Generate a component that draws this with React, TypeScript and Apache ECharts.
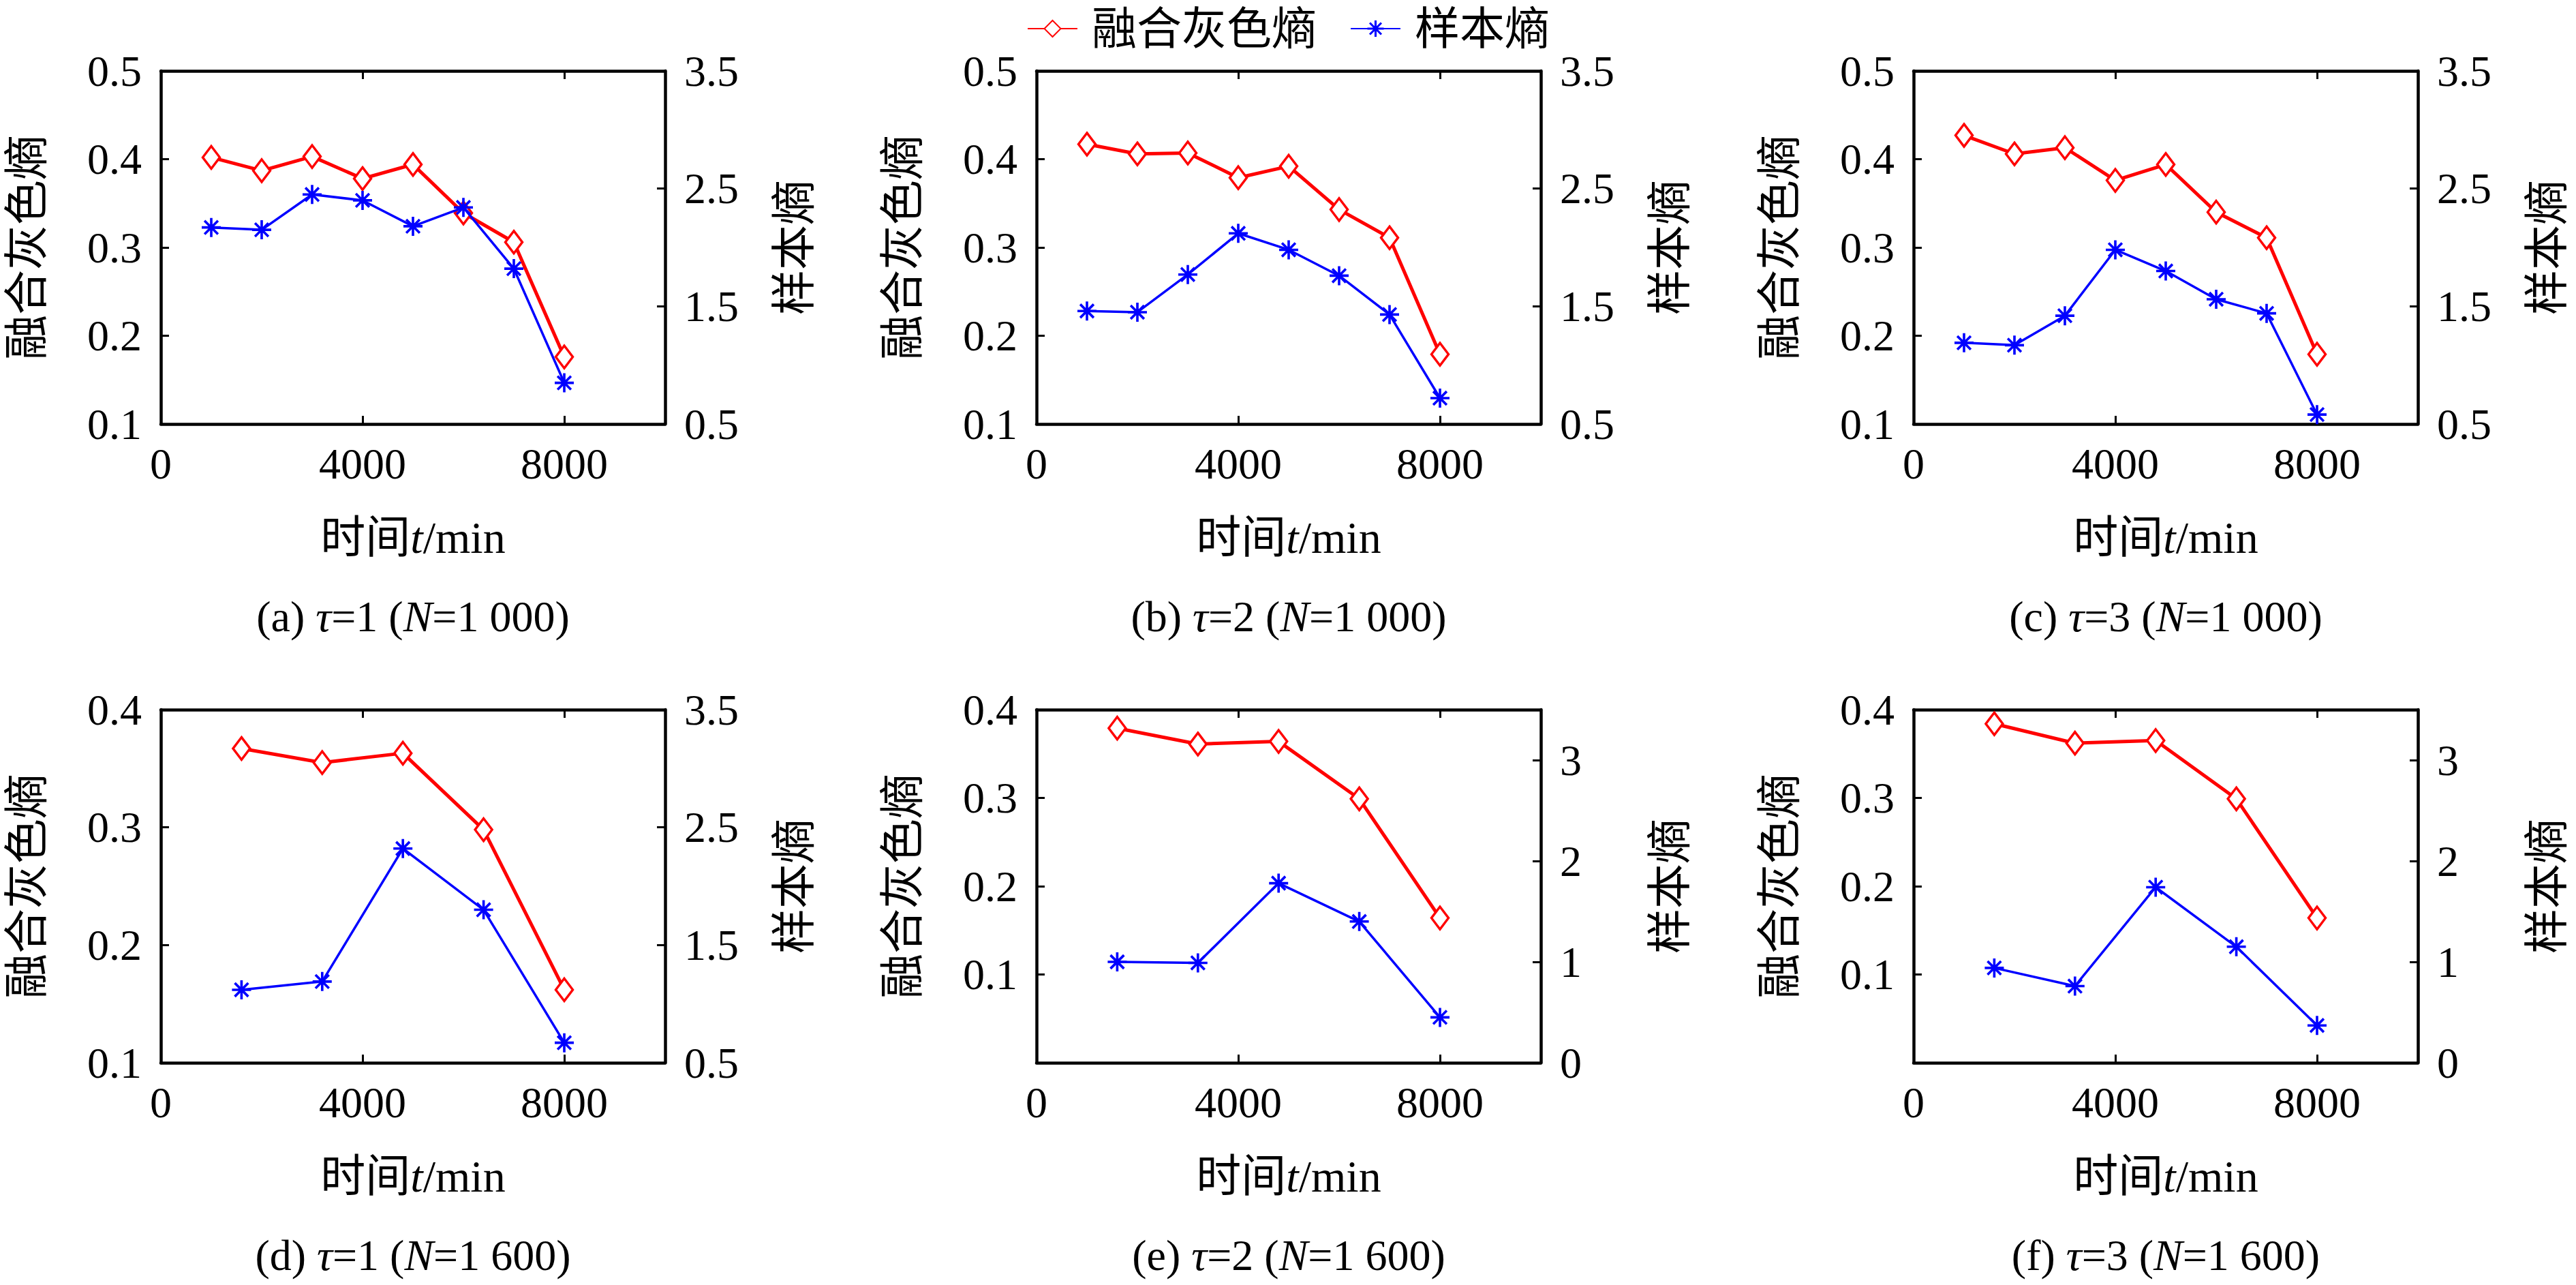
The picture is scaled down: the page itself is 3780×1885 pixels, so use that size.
import React, { useEffect, useRef } from 'react';
import * as echarts from 'echarts';

// ---- data ----
const timesN1000 = [1000, 2000, 3000, 4000, 5000, 6000, 7000, 8000];
const timesN1600 = [1600, 3200, 4800, 6400, 8000];

const grayA1 = [0.402, 0.387, 0.403, 0.378, 0.394, 0.339, 0.306, 0.176];
const sampA1 = [2.17, 2.15, 2.45, 2.40, 2.18, 2.34, 1.82, 0.85];
const grayA2 = [0.417, 0.406, 0.407, 0.379, 0.392, 0.343, 0.311, 0.179];
const sampA2 = [1.46, 1.45, 1.77, 2.12, 1.98, 1.76, 1.43, 0.72];
const grayA3 = [0.427, 0.406, 0.413, 0.376, 0.394, 0.340, 0.311, 0.179];
const sampA3 = [1.19, 1.17, 1.42, 1.98, 1.80, 1.56, 1.44, 0.58];

const grayB1 = [0.367, 0.355, 0.363, 0.298, 0.162];
const sampB1 = [1.12, 1.19, 2.32, 1.80, 0.67];
const grayB2 = [0.379, 0.361, 0.364, 0.299, 0.164];
const sampB2 = [1.00, 0.99, 1.78, 1.40, 0.45];
const grayB3 = [0.384, 0.362, 0.365, 0.299, 0.164];
const sampB3 = [0.94, 0.76, 1.74, 1.15, 0.37];

const xLabelValues = [0, 4000, 8000];
const xTickValues = [4000, 8000];
const leftLabelsTop = [0.1, 0.2, 0.3, 0.4, 0.5];
const leftLabelsD = [0.1, 0.2, 0.3, 0.4];
const leftLabelsEF = [0.1, 0.2, 0.3, 0.4];
const rightLabelsHalf = [0.5, 1.5, 2.5, 3.5];
const rightLabelsInt = [0, 1, 2, 3];

const seriesNames = ['融合灰色熵', '样本熵'];
const captionLetters = ['(a) ', '(b) ', '(c) ', '(d) ', '(e) ', '(f) '];
const captionTau = ['1', '2', '3', '1', '2', '3'];
const captionN = ['1 000', '1 000', '1 000', '1 600', '1 600', '1 600'];

// ---- layout / style ----
const FONT = "'Liberation Serif', 'Times New Roman', 'Noto Sans CJK SC', serif";
const colLeft = [236, 1521, 2808];
const rowTop = [104, 1041];
const gridW = 740;
const gridH = 518;

const ASTERISK =
  'path://M-1.3 -10 L1.3 -10 L1.3 10 L-1.3 10 Z ' +
  'M-10 -1.3 L10 -1.3 L10 1.3 L-10 1.3 Z ' +
  'M-7.990 -6.152 L-6.152 -7.990 L7.990 6.152 L6.152 7.990 Z ' +
  'M-6.152 7.990 L-7.990 6.152 L6.152 -7.990 L7.990 -6.152 Z';

type Panel = {
  times: number[];
  gray: number[];
  samp: number[];
  lMin: number; lMax: number; lLabels: number[];
  rMin: number; rMax: number; rLabels: number[]; rDigits: number;
};

const panels: Panel[] = [
  { times: timesN1000, gray: grayA1, samp: sampA1, lMin: 0.1, lMax: 0.5, lLabels: leftLabelsTop, rMin: 0.5, rMax: 3.5, rLabels: rightLabelsHalf, rDigits: 1 },
  { times: timesN1000, gray: grayA2, samp: sampA2, lMin: 0.1, lMax: 0.5, lLabels: leftLabelsTop, rMin: 0.5, rMax: 3.5, rLabels: rightLabelsHalf, rDigits: 1 },
  { times: timesN1000, gray: grayA3, samp: sampA3, lMin: 0.1, lMax: 0.5, lLabels: leftLabelsTop, rMin: 0.5, rMax: 3.5, rLabels: rightLabelsHalf, rDigits: 1 },
  { times: timesN1600, gray: grayB1, samp: sampB1, lMin: 0.1, lMax: 0.4, lLabels: leftLabelsD, rMin: 0.5, rMax: 3.5, rLabels: rightLabelsHalf, rDigits: 1 },
  { times: timesN1600, gray: grayB2, samp: sampB2, lMin: 0, lMax: 0.4, lLabels: leftLabelsEF, rMin: 0, rMax: 3.5, rLabels: rightLabelsInt, rDigits: 0 },
  { times: timesN1600, gray: grayB3, samp: sampB3, lMin: 0, lMax: 0.4, lLabels: leftLabelsEF, rMin: 0, rMax: 3.5, rLabels: rightLabelsInt, rDigits: 0 },
];

const AXIS_LINE = { show: true, onZero: false, lineStyle: { color: '#000', width: 4.5 } };
const tick = (vals: number[]) => ({ show: true, inside: true, length: 12, customValues: vals, lineStyle: { color: '#000', width: 3 } });
const LABEL_BASE = { color: '#000', fontSize: 64, fontFamily: FONT };
const richN = { fontSize: 66, fontFamily: FONT, color: '#000' };
const richI = { fontSize: 66, fontFamily: FONT, color: '#000', fontStyle: 'italic' as const };

function buildOption() {
  const grid: any[] = [];
  const xAxis: any[] = [];
  const yAxis: any[] = [];
  const series: any[] = [];
  const graphic: any[] = [];

  panels.forEach((p, i) => {
    const col = i % 3;
    const row = Math.floor(i / 3);
    const left = colLeft[col];
    const top = rowTop[row];
    grid.push({ left, top, width: gridW, height: gridH, containLabel: false });

    xAxis.push({
      type: 'value', gridIndex: i, position: 'bottom', min: 0, max: 10000,
      axisLine: AXIS_LINE, axisTick: tick(xTickValues),
      axisLabel: { ...LABEL_BASE, margin: 26, customValues: xLabelValues, formatter: (v: number) => String(v) },
      splitLine: { show: false },
      name: '{n|时间}{i|t}{n|/min}', nameLocation: 'middle', nameGap: 133,
      nameTextStyle: { rich: { n: richN, i: richI } },
    });
    xAxis.push({
      type: 'value', gridIndex: i, position: 'top', min: 0, max: 10000,
      axisLine: AXIS_LINE, axisTick: tick(xTickValues),
      axisLabel: { show: false }, splitLine: { show: false },
    });

    yAxis.push({
      type: 'value', gridIndex: i, position: 'left', min: p.lMin, max: p.lMax,
      axisLine: AXIS_LINE, axisTick: tick(p.lLabels),
      axisLabel: { ...LABEL_BASE, margin: 28, customValues: p.lLabels, formatter: (v: number) => v.toFixed(1) },
      splitLine: { show: false },
      name: seriesNames[0], nameLocation: 'middle', nameGap: 164,
      nameTextStyle: { color: '#000', fontSize: 66, fontFamily: FONT },
    });
    yAxis.push({
      type: 'value', gridIndex: i, position: 'right', min: p.rMin, max: p.rMax,
      axisLine: AXIS_LINE, axisTick: tick(p.rLabels),
      axisLabel: { ...LABEL_BASE, margin: 28, customValues: p.rLabels, formatter: (v: number) => v.toFixed(p.rDigits) },
      splitLine: { show: false },
      name: seriesNames[1], nameLocation: 'middle', nameGap: 156,
      nameTextStyle: { color: '#000', fontSize: 66, fontFamily: FONT },
    });

    series.push({
      name: seriesNames[0], type: 'line', xAxisIndex: 2 * i, yAxisIndex: 2 * i,
      data: p.times.map((t, k) => [t, p.gray[k]]),
      symbol: 'diamond', symbolSize: [25, 33], showAllSymbol: true,
      lineStyle: { color: '#ff0000', width: 5 },
      itemStyle: { color: '#ffffff', borderColor: '#ff0000', borderWidth: 3.5 },
      z: 2,
    });
    series.push({
      name: seriesNames[1], type: 'line', xAxisIndex: 2 * i, yAxisIndex: 2 * i + 1,
      data: p.times.map((t, k) => [t, p.samp[k]]),
      symbol: ASTERISK, symbolSize: 28, showAllSymbol: true,
      lineStyle: { color: '#0000ff', width: 3.5 },
      itemStyle: { color: '#0000ff' },
      z: 3,
    });

    graphic.push({
      type: 'text',
      x: left + gridW / 2,
      y: top + gridH + 282,
      style: {
        text: `{n|${captionLetters[i]}}{i|τ}{n|=${captionTau[i]} (}{i|N}{n|=${captionN[i]})}`,
        align: 'center', verticalAlign: 'middle',
        fontSize: 64, fontFamily: FONT, fill: '#000',
        rich: {
          n: { fontSize: 64, fontFamily: FONT, fill: '#000' },
          i: { fontSize: 64, fontFamily: FONT, fill: '#000', fontStyle: 'italic' },
        },
      },
    });
  });

  return {
    animation: false,
    backgroundColor: '#ffffff',
    legend: {
      left: 1502, top: 4,
      itemWidth: 73, itemHeight: 30, itemGap: 49,
      textStyle: { color: '#000', fontSize: 66, fontFamily: FONT, padding: [0, 0, 0, 16] },
      data: seriesNames,
    },
    grid, xAxis, yAxis, series, graphic,
  };
}

export default function App() {
  const ref = useRef<HTMLDivElement>(null);
  useEffect(() => {
    if (!ref.current) return;
    const chart = echarts.init(ref.current, undefined, { renderer: 'svg' });
    chart.setOption(buildOption() as any);
    return () => chart.dispose();
  }, []);
  return (
    <div
      ref={ref}
      style={{ position: 'absolute', left: 0, top: 0, width: 3780, height: 1885, background: '#fff' }}
    />
  );
}
